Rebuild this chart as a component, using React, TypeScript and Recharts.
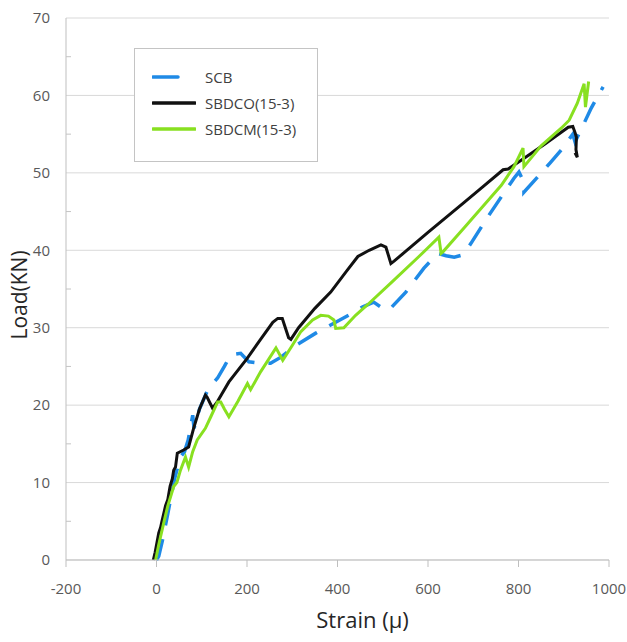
import { LineChart, Line, XAxis, YAxis, CartesianGrid, Label } from "recharts";

const xTicks = [-200, 0, 200, 400, 600, 800, 1000];
const yTicks = [0, 10, 20, 30, 40, 50, 60, 70];
const yMinorTicks = [5, 15, 25, 35, 45, 55, 65];

// SCB (blue dashed)
const scbStrain = [0, 5, 13, 25, 40, 53, 62, 70, 80, 83, 95, 115, 135, 150, 164, 186, 204, 230, 252, 275, 310, 352, 396, 430, 456, 480, 500, 514, 551, 591, 622, 640, 658, 677, 695, 732, 762, 790, 801, 812, 812, 846, 870, 895, 920, 925, 940, 961, 987];
const scbLoad = [0, 0.5, 2.5, 6, 10.5, 13.3, 14, 15.5, 18.7, 17, 19.5, 22.2, 23.5, 25, 26.5, 26.7, 25.6, 25.4, 25.4, 26.2, 27.8, 29.3, 30.7, 31.8, 32.7, 33.3, 32.5, 32.3, 34.6, 37.7, 39.6, 39.3, 39.1, 39.4, 40.9, 44.3, 46.9, 49.3, 50.1, 48.8, 47.5, 49.7, 51.3, 53, 55, 54, 55.8, 58.4, 61.1];

// SBDCO(15-3) (black)
const sbdcoStrain = [-7, -3, 5, 9, 12, 20, 25, 30, 35, 38, 42, 46, 60, 71, 82, 95, 108, 112, 124, 135, 160, 200, 230, 257, 268, 278, 292, 297, 314, 350, 385, 420, 445, 470, 496, 507, 518, 525, 600, 680, 717, 766, 777, 810, 860, 910, 920, 925, 928, 927, 930, 925];
const sbdcoLoad = [0, 1, 3.5, 4.2, 5, 7, 7.8, 9.5, 10.5, 11.6, 12, 13.8, 14.2, 14.6, 17, 19.5, 21.3, 21, 19.6, 20.5, 23, 26, 28.5, 30.7, 31.2, 31.2, 28.7, 28.5, 30, 32.5, 34.6, 37.3, 39.2, 40, 40.7, 40.4, 38.3, 38.6, 42.3, 46.2, 48, 50.4, 50.5, 51.8, 53.8, 55.9, 56, 55.2, 54.6, 53, 52, 52.6];

// SBDCM(15-3) (green)
const sbdcmStrain = [-2, 5, 16, 25, 38, 45, 53, 64, 71, 80, 90, 108, 120, 135, 142, 150, 160, 180, 201, 208, 230, 264, 279, 300, 319, 345, 363, 380, 392, 396, 414, 440, 467, 520, 580, 624, 629, 633, 680, 750, 762, 790, 810, 812, 850, 895, 912, 930, 945, 948, 955];
const sbdcmLoad = [0, 2, 4.8, 7, 9.5, 10, 11.6, 13.3, 12, 14, 15.5, 17, 18.5, 20.4, 20.4, 19.5, 18.5, 20.5, 22.8, 22, 24.3, 27.4, 25.8, 27.7, 29.5, 31, 31.6, 31.5, 31, 29.9, 30, 31.6, 33, 35.9, 39.2, 41.7, 39.6, 39.8, 42.9, 47.6, 48.4, 50.8, 53.2, 50.8, 53.5, 55.8, 56.8, 59, 61.5, 58.5, 61.8];

const zip = (xs: number[], ys: number[]) => xs.map((x, i) => ({ x, y: ys[i] }));

const series = [
  { name: "SCB", data: zip(scbStrain, scbLoad), color: "#1f8ae6", width: 3.5, dash: "22 14" },
  { name: "SBDCO(15-3)", data: zip(sbdcoStrain, sbdcoLoad), color: "#111111", width: 3, dash: undefined },
  { name: "SBDCM(15-3)", data: zip(sbdcmStrain, sbdcmLoad), color: "#88e020", width: 3, dash: undefined },
];

const font = "'Open Sans', 'Noto Sans', sans-serif";

function LegendBox() {
  return (
    <div
      style={{
        position: "absolute",
        left: 134,
        top: 48,
        width: 182,
        height: 112,
        border: "1px solid #c4c4c4",
        background: "#fff",
        fontFamily: font,
        fontSize: 15,
        color: "#404040",
      }}
    >
      {series.map((s, i) => (
        <div key={s.name} style={{ position: "absolute", left: 17, top: 17 + i * 26, height: 22, display: "flex", alignItems: "center" }}>
          <svg width={44} height={8}>
            <line x1={1} y1={4} x2={s.dash ? 26 : 43} y2={4} stroke={s.color} strokeWidth={3.5} strokeLinecap="round" />
          </svg>
          <span style={{ marginLeft: 9 }}>{s.name}</span>
        </div>
      ))}
    </div>
  );
}

export default function App() {
  return (
    <div style={{ position: "absolute", left: 0, top: 0, width: 627, height: 642, background: "#fff" }}>
      <LineChart width={627} height={642} margin={{ top: 18, right: 18, left: 10, bottom: 0 }}>
        <CartesianGrid vertical={false} stroke="#d9d9d9" />
        <XAxis
          type="number"
          dataKey="x"
          domain={[-200, 1000]}
          ticks={xTicks}
          allowDataOverflow
          height={82}
          tickSize={7}
          tickMargin={16}
          stroke="#bfbfbf"
          tick={{ fill: "#595959", fontSize: 15, fontFamily: font }}
        >
          <Label value="Strain (μ)" position="insideBottom" offset={14} dx={25} style={{ fontSize: 22, fontFamily: font, fill: "#262626" }} />
        </XAxis>
        <YAxis
          type="number"
          domain={[0, 70]}
          ticks={yTicks}
          width={56}
          tickSize={0}
          tickMargin={16}
          stroke="#bfbfbf"
          tick={{ fill: "#595959", fontSize: 15, fontFamily: font }}
        >
          <Label value="Load(KN)" angle={-90} position="insideLeft" offset={10} dy={6} style={{ fontSize: 21, fontFamily: font, fill: "#262626", textAnchor: "middle" }} />
        </YAxis>
        <YAxis
          yAxisId="minor"
          type="number"
          domain={[0, 70]}
          allowDataOverflow
          ticks={yMinorTicks}
          width={40}
          mirror
          axisLine={false}
          tickSize={5}
          tickLine={{ stroke: "#c4c4c4" }}
          tickFormatter={() => ""}
        />
        {series.map((s) => (
          <Line
            key={s.name}
            name={s.name}
            data={s.data}
            dataKey="y"
            type="linear"
            stroke={s.color}
            strokeWidth={s.width}
            strokeDasharray={s.dash}
            dot={false}
            activeDot={false}
            isAnimationActive={false}
          />
        ))}
      </LineChart>
      <LegendBox />
    </div>
  );
}
